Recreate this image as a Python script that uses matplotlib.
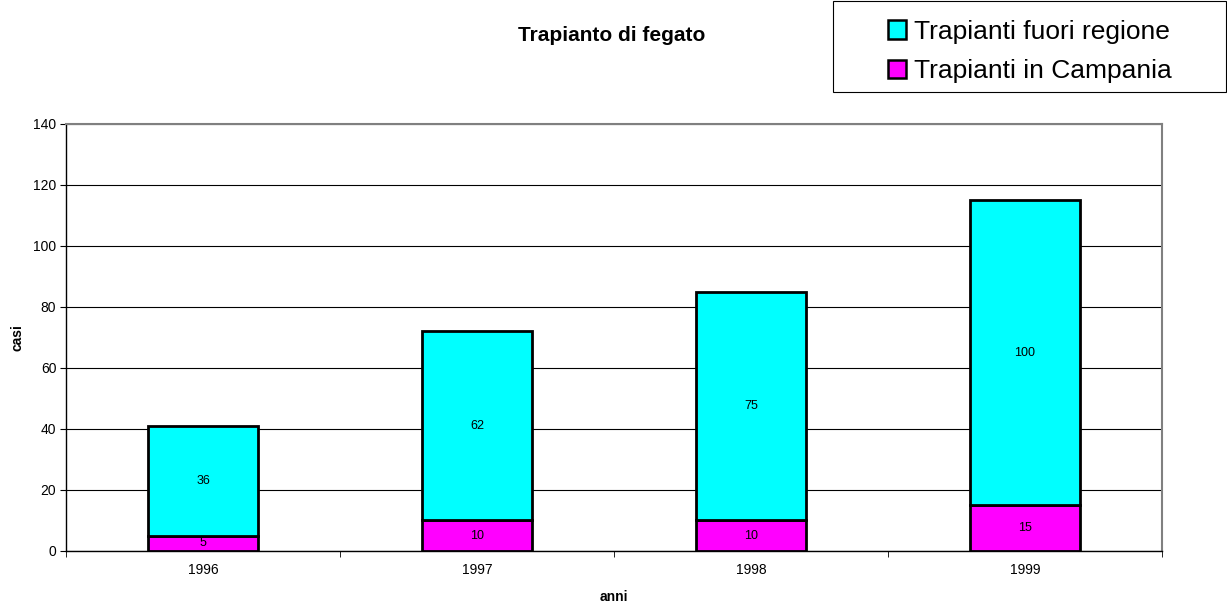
import matplotlib
matplotlib.use("Agg")
import matplotlib.pyplot as plt
from matplotlib.patches import Patch, Rectangle
import numpy as np

plt.rcParams['font.family'] = ['Liberation Sans', 'DejaVu Sans']

anni = ['1996', '1997', '1998', '1999']
in_campania = [5, 10, 10, 15]
fuori_regione = [36, 62, 75, 100]

fig = plt.figure(figsize=(12.27, 6.05), dpi=100)
ax = fig.add_axes([0.0538, 0.0893, 0.8932, 0.7058])

x = np.arange(len(anni)) + 0.5
w = 0.40
ax.bar(x, in_campania, width=w, color='#FF00FF', edgecolor='black', linewidth=2, zorder=3)
ax.bar(x, fuori_regione, width=w, bottom=in_campania, color='#00FFFF',
       edgecolor='black', linewidth=2, zorder=3)

for xi, c, f in zip(x, in_campania, fuori_regione):
    ax.text(xi, c / 2, str(c), ha='center', va='center', fontsize=9, zorder=4)
    ax.text(xi, c + f / 2, str(f), ha='center', va='center', fontsize=9, zorder=4)

ax.set_xlim(0, len(anni))
ax.set_ylim(0, 140)
ax.set_yticks(range(0, 141, 20))
ax.yaxis.grid(True, color='black', linewidth=0.8, zorder=0)
ax.set_axisbelow(True)

ax.set_xticks(x)
ax.set_xticklabels(anni)
ax.set_xticks(np.arange(0, len(anni) + 1), minor=True)
ax.tick_params(axis='x', which='major', length=0, pad=9, labelsize=10)
ax.tick_params(axis='x', which='minor', length=4, direction='out', color='black')
ax.tick_params(axis='y', length=4, labelsize=10, pad=3)

for side in ('top', 'right'):
    ax.spines[side].set_color('#808080')
    ax.spines[side].set_linewidth(1.5)
for side in ('left', 'bottom'):
    ax.spines[side].set_color('black')
    ax.spines[side].set_linewidth(1.0)

ax.set_ylabel('casi', fontsize=10, fontweight='bold', labelpad=6)
ax.set_xlabel('anni', fontsize=10, fontweight='bold', labelpad=9)

fig.text(0.4988, 0.941, 'Trapianto di fegato', ha='center', va='center',
         fontsize=15, fontweight='bold')

# legend frame box
fig.add_artist(Rectangle((0.679, 0.848), 0.3203, 0.1505, transform=fig.transFigure,
                         facecolor='white', edgecolor='black', linewidth=0.8))
handles = [Patch(facecolor='#00FFFF', edgecolor='black', linewidth=1.8),
           Patch(facecolor='#FF00FF', edgecolor='black', linewidth=1.8)]
leg = fig.legend(handles, ['Trapianti fuori regione', 'Trapianti in Campania'],
                 loc='center', bbox_to_anchor=(0.8392, 0.915),
                 fontsize=19, frameon=False,
                 handlelength=0.7, handleheight=0.7, handletextpad=0.3,
                 borderpad=0.0, labelspacing=0.6, borderaxespad=0)

fig.savefig('out.png', dpi=100)
